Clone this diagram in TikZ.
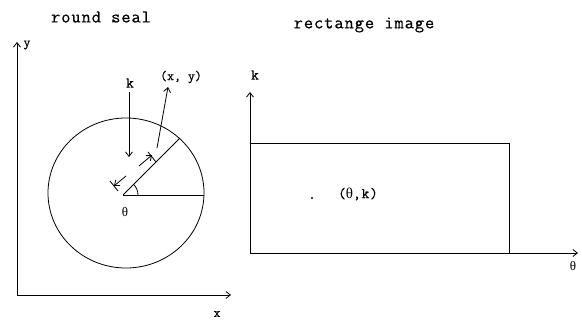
\documentclass[tikz,border=0pt]{standalone}
\usepackage{fontspec}
\newfontfamily\titlefont[LetterSpace=5,FakeBold=0.5]{Latin Modern Mono}
\newfontfamily\labfont[FakeBold=0.5]{Latin Modern Mono}
\newfontfamily\grk{Liberation Serif}
\usetikzlibrary{arrows.meta}
\begin{document}
\begin{tikzpicture}[x=1pt,y=-1pt,
  ln/.style={line width=0.8pt},
  arr/.style={ln,-{Straight Barb[length=4.5pt,width=7pt]}},
  ttl/.style={font=\titlefont\fontsize{18}{20}\selectfont,inner sep=0pt},
  lab/.style={font=\labfont\fontsize{13.5}{15}\selectfont,inner sep=0pt},
  bk/.style={font=\labfont\bfseries\fontsize{15}{17}\selectfont,inner sep=0pt},
  gk/.style={font=\grk\fontsize{13}{15}\selectfont,inner sep=0pt}]
\useasboundingbox (0,0) rectangle (582,323);
% titles
\node[ttl] (t1) at (101,17) {round seal};
\node[ttl] (t2) at (364,25) {rectange image};
% left axes
\coordinate (O1) at (17,295);
\coordinate (Y1) at (17,42);
\coordinate (X1) at (231,295);
\draw[arr] (O1) -- (Y1);
\draw[arr] (O1) -- (X1);
\node[lab] (ylab) at (27,45) {y};
\node[lab] (xlab) at (217,314) {x};
% circle
\draw[ln] (126,193) ellipse [x radius=78pt, y radius=75pt];
\coordinate (C) at (123,195);
\coordinate (R) at (204,195);
\coordinate (E) at (180,138);
\draw[ln] (C) -- (R);
\draw[ln] (C) -- (E);
% angle arc
\draw[ln] (138,195) .. controls (138,191) and (136.4,187.2) .. (133.6,184.4);
\node[gk] (th1) at (125,212) {θ};
% k arrow
\node[bk] (k1) at (130,83) {k};
\coordinate (k1s) at (129,92);
\coordinate (k1e) at (129,157);
\draw[arr] (k1s) -- (k1e);
% (x,y) arrow
\node[lab] (xy) at (181,77) {(x, y)};
\coordinate (xys) at (157,148);
\coordinate (xye) at (168,87);
\draw[arr] (xys) -- (xye);
% dimension arrows on the radius
\coordinate (a1s) at (139,166);
\coordinate (a1e) at (152,155);
\draw[arr] (a1s) -- (a1e);
\draw[ln] (156,162) -- (148,152);
\coordinate (a2s) at (126,176);
\coordinate (a2e) at (114,186);
\draw[arr] (a2s) -- (a2e);
\draw[ln] (110,181) -- (118,191);
% right axes
\coordinate (O2) at (250,253);
\coordinate (K2) at (250,92);
\coordinate (T2) at (578,253);
\draw[arr] (O2) -- (K2);
\draw[arr] (O2) -- (T2);
\node[bk] (k2) at (255,75) {k};
\node[gk] (th2) at (573,266) {θ};
% rectangle
\draw[ln] (250,143) rectangle (509,253);
\fill (312,198) circle (1.2pt);
\node[font=\titlefont\fontsize{15}{17}\selectfont,inner sep=0pt] (tk) at (358,194) {({\grk θ},k)};
\end{tikzpicture}
\end{document}
